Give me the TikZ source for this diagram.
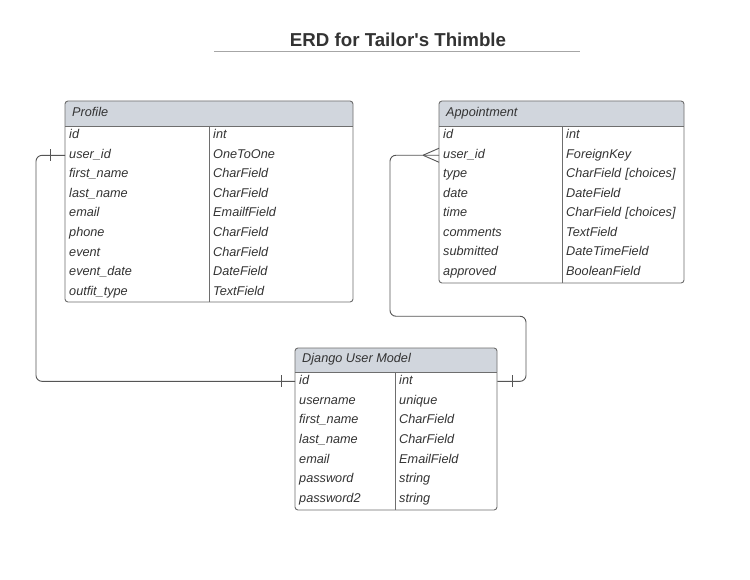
\documentclass[tikz,border=0pt]{standalone}
\usepackage{fontspec}
\setmainfont{Liberation Sans}
\usetikzlibrary{positioning}
\definecolor{hdrfill}{HTML}{D1D6DD}
\definecolor{framec}{HTML}{6E6E6E}
\definecolor{linkc}{HTML}{555555}
\definecolor{ink}{HTML}{333333}

\begin{document}
\begin{tikzpicture}[x=1pt,y=-1pt]
  \tikzset{cell/.style = {anchor=west, inner xsep=4pt, inner ysep=0pt, text height=9pt, text depth=3pt, align=left, text=ink, font=\fontsize{12.7}{15}\selectfont\itshape}}
  \tikzset{tbl/.style = {draw=framec, line width=0.9pt}}
  \tikzset{hdr/.style = {fill=hdrfill, rounded corners=3pt}}
  \tikzset{link/.style = {draw=linkc, line width=0.9pt, rounded corners=6pt}}
  \tikzset{bar/.style = {draw=linkc, line width=0.9pt}}

  \fill[white] (0,0) rectangle (750,580);
  \useasboundingbox (0,0) rectangle (750,580);

  % title
  \node[text=ink, font=\bfseries\fontsize{18.7}{22}\selectfont] (title) at (398,40) {ERD for Tailor\textquotesingle s Thimble};
  \draw[gray!70, line width=1pt] (214,52) -- (580,52);

  % Profile
  \path[hdr] (65,126) -- (65,101) -- (353,101) [sharp corners] -- (353,126) -- cycle;
  \draw[tbl, rounded corners=3pt] (65,101) rectangle (353,302);
  \draw[tbl] (65,126) -- (353,126) (209,126) -- (209,302);
  \node[cell, xshift=3pt] (pf-head) at (65,113.5) {Profile};
  \foreach \f/\t [count=\i] in {id/int, user\_id/OneToOne, first\_name/CharField, last\_name/CharField, email/EmailfField, phone/CharField, event/CharField, event\_date/DateField, outfit\_type/TextField}
  {
    \node[cell, text width=136pt] (pf-f-\i) at (65,{126+19.55*(\i-0.5)}) {\f};
    \node[cell, text width=136pt] (pf-t-\i) at (209,{126+19.55*(\i-0.5)}) {\t};
  }

  % Appointment
  \path[hdr] (439,126.5) -- (439,101) -- (684,101) [sharp corners] -- (684,126.5) -- cycle;
  \draw[tbl, rounded corners=3pt] (439,101) rectangle (684,283);
  \draw[tbl] (439,126.5) -- (684,126.5) (562,126.5) -- (562,283);
  \node[cell, xshift=3pt] (ap-head) at (439,113.5) {Appointment};
  \foreach \f/\t [count=\i] in {id/int, user\_id/ForeignKey, type/CharField [choices], date/DateField, time/CharField [choices], comments/TextField, submitted/DateTimeField, approved/BooleanField}
  {
    \node[cell, text width=115pt] (ap-f-\i) at (439,{126+19.5*(\i-0.5)}) {\f};
    \node[cell, text width=114pt] (ap-t-\i) at (562,{126+19.5*(\i-0.5)}) {\t};
  }

  % Django User Model
  \path[hdr] (295,372) -- (295,348) -- (497,348) [sharp corners] -- (497,372) -- cycle;
  \draw[tbl, rounded corners=3pt] (295,348) rectangle (497,510);
  \draw[tbl] (295,372) -- (497,372) (395,372) -- (395,510);
  \node[cell, xshift=3pt] (dj-head) at (295,359.5) {Django User Model};
  \foreach \f/\t [count=\i] in {id/int, username/unique, first\_name/CharField, last\_name/CharField, email/EmailField, password/string, password2/string}
  {
    \node[cell, text width=92pt] (dj-f-\i) at (295,{371.5+19.7*(\i-0.5)}) {\f};
    \node[cell, text width=94pt] (dj-t-\i) at (395,{371.5+19.7*(\i-0.5)}) {\t};
  }

  % Profile -- User (one to one)
  \draw[link] (pf-f-2.west) -- ++(-29,0) |- (dj-f-1.west);
  \draw[bar] ([xshift=-15pt,yshift=6pt]pf-f-2.west) -- ([xshift=-15pt,yshift=-6pt]pf-f-2.west);
  \draw[bar] ([xshift=-14pt,yshift=6pt]dj-f-1.west) -- ([xshift=-14pt,yshift=-6pt]dj-f-1.west);

  % Appointment -- User (many to one)
  \draw[link] (ap-f-2.west) -- ++(-49,0) -- ++(0,161) -- ++(136,0) |- (dj-t-1.east);
  \draw[bar] ([xshift=-16pt]ap-f-2.west) -- ([yshift=7pt]ap-f-2.west);
  \draw[bar] ([xshift=-16pt]ap-f-2.west) -- ([yshift=-7pt]ap-f-2.west);
  \draw[bar] ([xshift=15pt,yshift=6pt]dj-t-1.east) -- ([xshift=15pt,yshift=-6pt]dj-t-1.east);

\end{tikzpicture}
\end{document}
